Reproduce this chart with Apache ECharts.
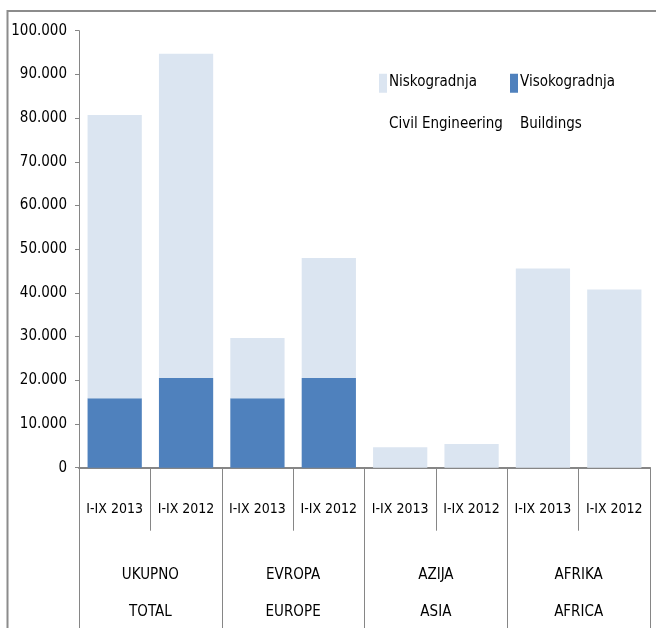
<!DOCTYPE html>
<html>
<head>
<meta charset="utf-8">
<script src="https://cdn.jsdelivr.net/npm/echarts@6/dist/echarts.min.js"></script>
<style>html,body{margin:0;padding:0;background:#fff}#c{width:656px;height:628px}</style>
</head>
<body>
<div id="c"></div>
<script>
var periods = ['I-IX 2013','I-IX 2012','I-IX 2013','I-IX 2012','I-IX 2013','I-IX 2012','I-IX 2013','I-IX 2012'];
var groups = ['UKUPNO\nTOTAL','EVROPA\nEUROPE','AZIJA\nASIA','AFRIKA\nAFRICA'];
var civilName = 'Niskogradnja';
var civilEn = 'Civil Engineering';
var buildName = 'Visokogradnja';
var buildEn = 'Buildings';
var civil = [64800, 74200, 13800, 27500, 4700, 5400, 45600, 40800];
var buildings = [15900, 20500, 15900, 20500, 0, 0, 0, 0];

var FONT = '"Liberation Sans Narrow","DejaVu Sans Condensed","Liberation Sans",sans-serif';
var C_LIGHT = '#DBE5F1', C_DARK = '#4F81BD', AX = '#868686';
function fmt(v){ return String(v).replace(/\B(?=(\d{3})+(?!\d))/g,'.'); }
// legend icon: small rect at top, invisible point extends bbox so rect aligns with first text line
var iconPath = 'path://M0,0L8,0L8,19L0,19Z M0,58.6L0.001,58.6';
var chart = echarts.init(document.getElementById('c'));
chart.setOption({
  animation: false,
  textStyle: {fontFamily: FONT},
  graphic: [{type:'rect', shape:{x:7.5,y:11,width:700,height:700}, style:{fill:'none', stroke:'#8c8c8c', lineWidth:2}, silent:true}],
  grid: {left:79, right:6, top:30.7, bottom:160.3, containLabel:false, outerBoundsMode:'none'},
  legend: [
    {left:379, top:61, padding:0, data:[civilName], itemWidth:8, itemHeight:58.6, icon: iconPath,
     formatter: function(n){return n + '\n' + civilEn;},
     textStyle:{fontFamily:FONT, fontSize:15, lineHeight:42, color:'#000', padding:[0,0,0,-3]}},
    {left:510, top:61, padding:0, data:[buildName], itemWidth:8, itemHeight:58.6, icon: iconPath,
     formatter: function(n){return n + '\n' + buildEn;},
     textStyle:{fontFamily:FONT, fontSize:15, lineHeight:42, color:'#000', padding:[0,0,0,-3]}}
  ],
  xAxis: [
    {type:'category', data:periods, position:'bottom',
     axisLine:{show:true, lineStyle:{color:AX, width:2}},
     axisTick:{show:true, interval:0, length:63, lineStyle:{color:AX, width:1}},
     axisLabel:{interval:0, margin:35, fontFamily:FONT, fontSize:14, color:'#000'}},
    {type:'category', data:groups, position:'bottom', gridIndex:0,
     axisLine:{show:false},
     axisTick:{show:true, interval:0, length:200, lineStyle:{color:AX, width:1}},
     axisLabel:{interval:0, margin:89, fontFamily:FONT, fontSize:15, lineHeight:37, color:'#000'}}
  ],
  yAxis: {type:'value', min:0, max:100000, interval:10000,
    axisLine:{show:true, lineStyle:{color:AX, width:1}},
    axisTick:{show:true, length:4, lineStyle:{color:AX}},
    splitLine:{show:false},
    axisLabel:{margin:12, fontFamily:FONT, fontSize:15, color:'#000', formatter: fmt}},
  series: [
    {name:buildName, type:'bar', stack:'a', data:buildings, barCategoryGap:'24%', itemStyle:{color:C_DARK}},
    {name:civilName, type:'bar', stack:'a', data:civil, barCategoryGap:'24%', itemStyle:{color:C_LIGHT}}
  ]
});
</script>
</body>
</html>
